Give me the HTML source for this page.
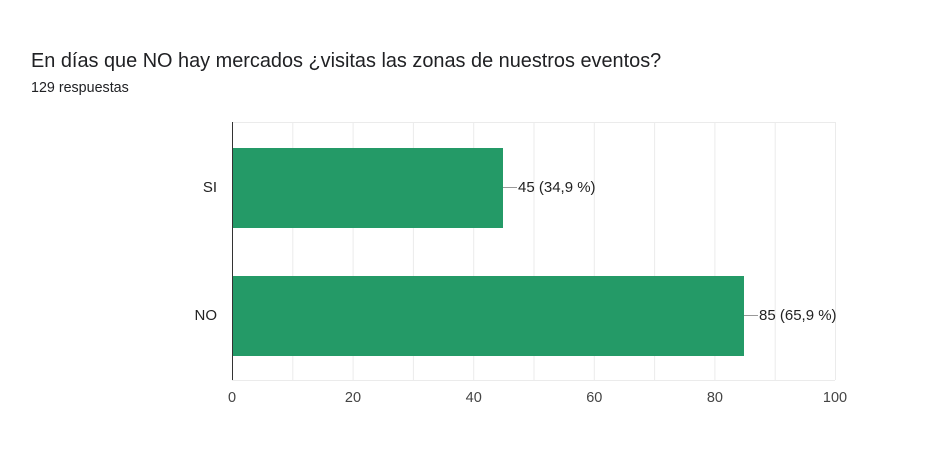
<!DOCTYPE html>
<html><head><meta charset="utf-8"><style>
body{margin:0;background:#fff;width:928px;height:464px;overflow:hidden;font-family:"Liberation Sans",Arial,sans-serif}
</style></head><body>
<svg width="928" height="464" xmlns="http://www.w3.org/2000/svg" font-family="Liberation Sans, Arial, sans-serif">
<text x="31" y="67" font-size="19.9" fill="#202124">En días que NO hay mercados ¿visitas las zonas de nuestros eventos?</text>
<text x="31" y="92" font-size="14.3" fill="#202124">129 respuestas</text>
<g stroke="#ebebeb" stroke-width="1">
<line x1="232" y1="122.5" x2="835" y2="122.5"/>
<line x1="232" y1="380.5" x2="835" y2="380.5"/>
<line x1="292.8" y1="122" x2="292.8" y2="380"/>
<line x1="353.1" y1="122" x2="353.1" y2="380"/>
<line x1="413.4" y1="122" x2="413.4" y2="380"/>
<line x1="473.7" y1="122" x2="473.7" y2="380"/>
<line x1="534" y1="122" x2="534" y2="380"/>
<line x1="594.3" y1="122" x2="594.3" y2="380"/>
<line x1="654.6" y1="122" x2="654.6" y2="380"/>
<line x1="714.9" y1="122" x2="714.9" y2="380"/>
<line x1="775.2" y1="122" x2="775.2" y2="380"/>
<line x1="835.5" y1="122" x2="835.5" y2="380"/>
</g>
<rect x="232" y="148" width="271" height="80" fill="#249a67"/>
<rect x="232" y="276" width="512" height="80" fill="#249a67"/>
<line x1="232.5" y1="122" x2="232.5" y2="380" stroke="#333" stroke-width="1"/>
<line x1="503" y1="187.5" x2="517" y2="187.5" stroke="#999"/>
<line x1="744" y1="315.5" x2="758" y2="315.5" stroke="#999"/>
<g font-size="15" fill="#222">
<text x="518" y="192">45 (34,9 %)</text>
<text x="759" y="320">85 (65,9 %)</text>
<text x="217" y="192" text-anchor="end">SI</text>
<text x="217" y="320" text-anchor="end">NO</text>
</g>
<g font-size="14.5" fill="#444" text-anchor="middle">
<text x="232" y="402">0</text>
<text x="353" y="402">20</text>
<text x="473.7" y="402">40</text>
<text x="594.3" y="402">60</text>
<text x="714.9" y="402">80</text>
<text x="835" y="402">100</text>
</g>
</svg>
</body></html>
